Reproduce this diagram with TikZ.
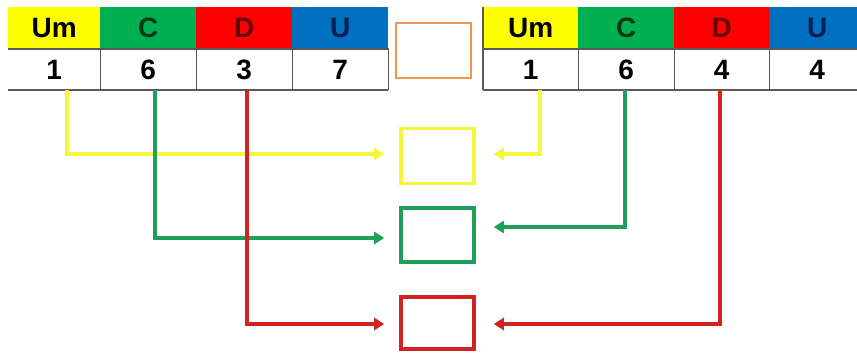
\documentclass[tikz,border=0pt]{standalone}
\usepackage{fontspec}
\setmainfont{Liberation Sans}
\usetikzlibrary{arrows.meta}
\definecolor{cYel}{RGB}{255,255,0}
\definecolor{cGrn}{RGB}{0,176,80}
\definecolor{cRed}{RGB}{255,0,0}
\definecolor{cBlu}{RGB}{0,112,192}
\definecolor{tGrn}{RGB}{0,55,20}
\definecolor{tRed}{RGB}{100,0,0}
\definecolor{tBlu}{RGB}{0,30,80}
\definecolor{lYel}{RGB}{245,245,60}
\definecolor{lGrn}{RGB}{30,160,90}
\definecolor{lRed}{RGB}{210,35,35}
\definecolor{cOrg}{RGB}{240,150,80}
\definecolor{grid}{RGB}{90,90,90}
\tikzset{
  hcell/.style={anchor=north west, inner sep=0pt, minimum height=42pt,
     font=\fontsize{28}{28}\selectfont\bfseries},
  vcell/.style={anchor=north west, inner sep=0pt, minimum height=41pt,
     font=\fontsize{28}{28}\selectfont\bfseries, fill=white},
  sep/.style={draw=grid, line width=1.2pt},
  ansbox/.style={draw, line width=3.6pt, minimum width=73pt, inner sep=0pt},
  conn/.style={line width=3.6pt, -{Triangle[length=10pt,width=12pt]}},
}
\begin{document}
\begin{tikzpicture}[x=1pt,y=-1pt]
\useasboundingbox (0,0) rectangle (857,353);
\clip (0,0) rectangle (857,353);
\fill[white] (0,0) rectangle (857,353);
% left table
\node[hcell, fill=cYel, minimum width=92pt] (lh1) at (8,7) {Um};
\node[hcell, fill=cGrn, minimum width=96pt, text=tGrn] (lh2) at (100,7) {C};
\node[hcell, fill=cRed, minimum width=96pt, text=tRed] (lh3) at (196,7) {D};
\node[hcell, fill=cBlu, minimum width=96pt, text=tBlu] (lh4) at (292,7) {U};
\node[vcell, minimum width=92pt] (lv1) at (8,49) {1};
\node[vcell, minimum width=96pt] (lv2) at (100,49) {6};
\node[vcell, minimum width=96pt] (lv3) at (196,49) {3};
\node[vcell, minimum width=96pt] (lv4) at (292,49) {7};
\draw[sep] (lv1.north west) -- (lv4.north east) -- (lv4.south east);
\draw[sep] (lv1.north east) -- (lv1.south east);
\draw[sep] (lv2.north east) -- (lv2.south east);
\draw[sep] (lv3.north east) -- (lv3.south east);
\draw[grid, line width=2pt] (lv1.south west) -- (lv4.south east);
% right table
\node[hcell, fill=cYel, minimum width=95pt] (rh1) at (483,7) {Um};
\node[hcell, fill=cGrn, minimum width=96pt, text=tGrn] (rh2) at (578,7) {C};
\node[hcell, fill=cRed, minimum width=95pt, text=tRed] (rh3) at (674,7) {D};
\node[hcell, fill=cBlu, minimum width=96pt, text=tBlu] (rh4) at (769,7) {U};
\node[vcell, minimum width=95pt] (rv1) at (483,49) {1};
\node[vcell, minimum width=96pt] (rv2) at (578,49) {6};
\node[vcell, minimum width=95pt] (rv3) at (674,49) {4};
\node[vcell, minimum width=96pt] (rv4) at (769,49) {4};
\draw[sep] (rh1.north west) -- (rv1.south west);
\draw[sep] (rv1.north west) -- (rv4.north east);
\draw[sep] (rv1.north east) -- (rv1.south east);
\draw[sep] (rv2.north east) -- (rv2.south east);
\draw[sep] (rv3.north east) -- (rv3.south east);
\draw[grid, line width=2pt] (rv1.south west) -- (rv4.south east);
% boxes
\node[draw=cOrg, line width=1.6pt, minimum width=75pt, minimum height=55pt, inner sep=0pt] (ob) at (433.5,50.5) {};
\node[ansbox, draw=lYel, minimum height=55pt] (yb) at (437.5,156) {};
\node[ansbox, draw=lGrn, minimum height=54pt] (gb) at (437.5,235) {};
\node[ansbox, draw=lRed, minimum height=52pt] (rb) at (437.5,323) {};
% connectors left
\draw[conn, lYel, shorten >=15pt] ([xshift=13pt]lv1.south) |- ([yshift=2pt]yb.west);
\draw[conn, lGrn, shorten >=15pt] ([xshift=7pt]lv2.south) |- ([yshift=-3pt]gb.west);
\draw[conn, lRed, shorten >=15pt] ([xshift=3pt]lv3.south) |- ([yshift=-1pt]rb.west);
% connectors right
\draw[conn, lYel, shorten >=18pt] ([xshift=9.5pt]rv1.south) |- ([yshift=2pt]yb.east);
\draw[conn, lGrn, shorten >=18pt] ([xshift=-1pt]rv2.south) |- ([yshift=8pt]gb.east);
\draw[conn, lRed, shorten >=18pt] ([xshift=-1.5pt]rv3.south) |- ([yshift=-1pt]rb.east);
\end{tikzpicture}
\end{document}
